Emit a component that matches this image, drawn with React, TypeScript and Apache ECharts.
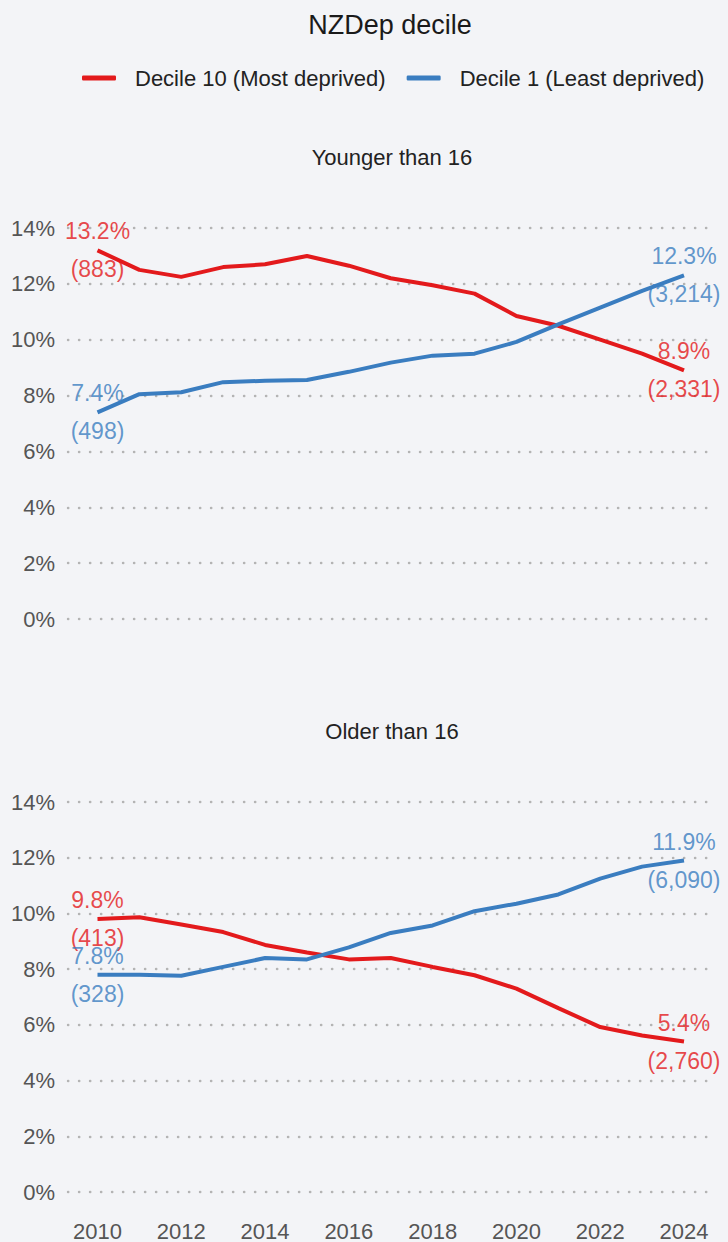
import React, { useEffect, useRef } from "react";
import * as echarts from "echarts";

const years = [2010, 2011, 2012, 2013, 2014, 2015, 2016, 2017, 2018, 2019, 2020, 2021, 2022, 2023, 2024];
const xTickLabels = [2010, 2012, 2014, 2016, 2018, 2020, 2022, 2024];
const yTicks = [0, 2, 4, 6, 8, 10, 12, 14];

const seriesNames = ["Decile 10 (Most deprived)", "Decile 1 (Least deprived)"];
const panelTitles = ["Younger than 16", "Older than 16"];

const youngDecile10 = [13.2, 12.5, 12.25, 12.6, 12.7, 13.0, 12.65, 12.2, 11.95, 11.65, 10.85, 10.5, 10.0, 9.5, 8.9];
const youngDecile1 = [7.4, 8.05, 8.12, 8.48, 8.53, 8.56, 8.85, 9.18, 9.43, 9.5, 9.92, 10.55, 11.15, 11.75, 12.3];
const oldDecile10 = [9.8, 9.86, 9.6, 9.33, 8.87, 8.6, 8.35, 8.4, 8.08, 7.78, 7.3, 6.6, 5.92, 5.62, 5.4];
const oldDecile1 = [7.8, 7.8, 7.76, 8.08, 8.4, 8.35, 8.78, 9.3, 9.57, 10.08, 10.35, 10.68, 11.25, 11.68, 11.9];

// counts shown at first / last year
const youngDecile10Counts = [883, 2331];
const youngDecile1Counts = [498, 3214];
const oldDecile10Counts = [413, 2760];
const oldDecile1Counts = [328, 6090];

const RED = "#e31a1c";
const BLUE = "#3a7dc0";
const FONT = "Liberation Sans, Arial, Helvetica, sans-serif";
const BG = "#f3f4f7";

export default function App() {
  const ref = useRef<HTMLDivElement>(null);

  useEffect(() => {
    if (!ref.current) return;
    document.body.style.margin = "0";
    const chart = echarts.init(ref.current, undefined, { renderer: "svg" });

    const panels = [
      { d10: youngDecile10, d1: youngDecile1, c10: youngDecile10Counts, c1: youngDecile1Counts },
      { d10: oldDecile10, d1: oldDecile1, c10: oldDecile10Counts, c1: oldDecile1Counts },
    ];

    const grids = [
      { left: 68, right: 21, top: 228, height: 391 },
      { left: 68, right: 21, top: 802, height: 390 },
    ];

    const xAxes = grids.map((_, i) => ({
      type: "value",
      gridIndex: i,
      min: 2009.296,
      max: 2024.549,
      axisLine: { show: false },
      axisTick: { show: false },
      splitLine: { show: false },
      axisLabel: {
        show: i === 1,
        customValues: xTickLabels,
        formatter: (v: number) => String(Math.round(v)),
        color: "#555",
        fontSize: 22,
        fontFamily: FONT,
        margin: 28,
      },
    }));

    const yAxes = grids.map((_, i) => ({
      type: "value",
      gridIndex: i,
      min: yTicks[0],
      max: yTicks[yTicks.length - 1],
      interval: 2,
      axisLine: { show: false },
      axisTick: { show: false },
      axisLabel: {
        formatter: "{value}%",
        color: "#555",
        fontSize: 22,
        fontFamily: FONT,
        margin: 13,
      },
      splitLine: {
        show: true,
        lineStyle: { color: "#b4b4b4", width: 2.4, type: [0.3, 10.7], cap: "round" },
      },
    }));

    const fmtCount = (n: number) => n.toLocaleString("en-US");

    const series: any[] = [];
    panels.forEach((p, i) => {
      series.push({
        name: seriesNames[0],
        type: "line",
        xAxisIndex: i,
        yAxisIndex: i,
        data: years.map((y, k) => [y, p.d10[k]]),
        showSymbol: false,
        symbol: "none",
        lineStyle: { color: RED, width: 4 },
        itemStyle: { color: RED },
        z: 3,
      });
      series.push({
        name: seriesNames[1],
        type: "line",
        xAxisIndex: i,
        yAxisIndex: i,
        data: years.map((y, k) => [y, p.d1[k]]),
        showSymbol: false,
        symbol: "none",
        lineStyle: { color: BLUE, width: 4 },
        itemStyle: { color: BLUE },
        z: 3,
      });
      const labelSeries = (vals: number[], counts: number[], color: string, nm: string) => ({
        name: nm,
        type: "scatter",
        xAxisIndex: i,
        yAxisIndex: i,
        symbolSize: 0,
        silent: true,
        z: 5,
        data: [
          { value: [years[0], vals[0]], count: counts[0] },
          { value: [years[years.length - 1], vals[vals.length - 1]], count: counts[1] },
        ].map((d) => ({
          value: d.value,
          label: {
            show: true,
            position: "inside",
            align: "center",
            verticalAlign: "middle",
            formatter: `${d.value[1].toFixed(1)}%\n(${fmtCount(d.count)})`,
            color,
            fontSize: 23,
            lineHeight: 38,
            fontFamily: FONT,
          },
        })),
      });
      series.push(labelSeries(p.d10, p.c10, RED, "lab10_" + i));
      series.push(labelSeries(p.d1, p.c1, BLUE, "lab1_" + i));
    });

    chart.setOption({
      animation: false,
      backgroundColor: BG,
      textStyle: { fontFamily: FONT },
      legend: {
        data: seriesNames,
        left: 77,
        top: 62,
        icon: "roundRect",
        itemWidth: 34,
        itemHeight: 5,
        itemGap: 21,
        textStyle: {
          color: "#222",
          fontSize: 22,
          fontFamily: FONT,
          padding: [0, 0, 0, 14],
        },
      },
      graphic: [
        {
          type: "text",
          x: 390,
          y: 25,
          style: {
            text: "NZDep decile",
            fill: "#1a1a1a",
            font: `27px ${FONT}`,
            align: "center",
            verticalAlign: "middle",
          },
        },
        ...panelTitles.map((t, i) => ({
          type: "text",
          x: 392,
          y: i === 0 ? 157 : 731,
          style: {
            text: t,
            fill: "#222",
            font: `22px ${FONT}`,
            align: "center",
            verticalAlign: "middle",
          },
        })),
      ],
      grid: grids,
      xAxis: xAxes,
      yAxis: yAxes,
      series,
    });

    return () => chart.dispose();
  }, []);

  return (
    <div
      ref={ref}
      style={{ position: "fixed", left: 0, top: 0, width: 728, height: 1242, background: BG }}
    />
  );
}
